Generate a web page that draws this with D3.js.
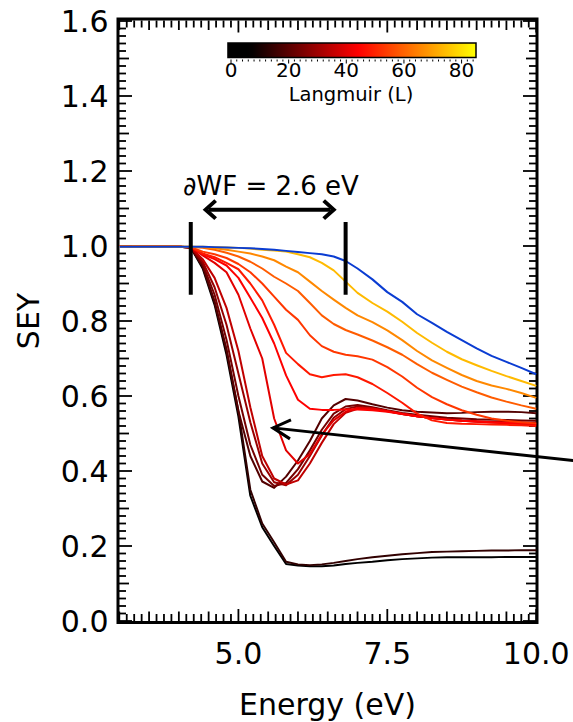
<!DOCTYPE html>
<html><head><meta charset="utf-8">
<script src="https://cdn.jsdelivr.net/npm/d3@7/dist/d3.min.js"></script>
<style>html,body{margin:0;padding:0;background:#fff;} svg{display:block;font-family:"DejaVu Sans",sans-serif;}</style>
</head><body><svg id="chart" width="573" height="722"></svg>
<script>
// ---------------- data ----------------
const energy = [3.0, 3.5, 4.0, 4.2, 4.4, 4.6, 4.8, 5.0, 5.2, 5.4, 5.6, 5.8, 6.0, 6.2, 6.4, 6.6, 6.8, 7.0, 7.25, 7.5, 7.75, 8.0, 8.25, 8.5, 8.75, 9.0, 9.25, 9.5, 9.75, 10.0];

// Langmuir exposure of each curve (colour-coded)
const exposures = [0, 14, 19, 24, 29, 35, 40, 44, 48, 53, 59, 66, 74];

const sey_a = [0.998,0.998,0.998,0.996,0.940,0.843,0.710,0.545,0.334,0.250,0.200,0.152,0.148,0.146,0.146,0.148,0.152,0.155,0.158,0.162,0.165,0.167,0.169,0.170,0.170,0.170,0.170,0.171,0.171,0.171];
const sey_b = [0.998,0.998,0.998,0.996,0.945,0.850,0.720,0.560,0.350,0.260,0.210,0.158,0.151,0.149,0.151,0.155,0.160,0.165,0.170,0.174,0.178,0.181,0.184,0.185,0.186,0.187,0.188,0.188,0.189,0.189];
const sey_c = [0.998,0.998,0.998,0.996,0.946,0.852,0.725,0.560,0.440,0.372,0.355,0.385,0.428,0.480,0.540,0.575,0.592,0.588,0.578,0.569,0.562,0.558,0.556,0.554,0.555,0.557,0.558,0.558,0.557,0.554];
const sey_d = [0.998,0.998,0.998,0.996,0.952,0.870,0.750,0.600,0.470,0.390,0.360,0.368,0.405,0.455,0.510,0.553,0.572,0.576,0.570,0.562,0.555,0.550,0.546,0.542,0.540,0.538,0.537,0.536,0.535,0.534];
const sey_e = [0.998,0.998,0.998,0.996,0.958,0.890,0.790,0.660,0.530,0.420,0.370,0.362,0.390,0.440,0.495,0.542,0.565,0.572,0.567,0.560,0.552,0.546,0.541,0.538,0.535,0.533,0.532,0.531,0.530,0.529];
const sey_f = [0.998,0.998,0.998,0.996,0.965,0.915,0.835,0.720,0.570,0.440,0.380,0.364,0.375,0.420,0.475,0.525,0.555,0.566,0.565,0.559,0.552,0.546,0.541,0.537,0.534,0.531,0.529,0.527,0.525,0.522];
const sey_g = [0.998,0.998,0.998,0.997,0.975,0.955,0.930,0.870,0.780,0.700,0.540,0.455,0.420,0.445,0.497,0.535,0.558,0.568,0.567,0.560,0.553,0.546,0.541,0.537,0.534,0.532,0.530,0.529,0.528,0.526];
const sey_h = [0.998,0.998,0.998,0.997,0.978,0.965,0.948,0.915,0.862,0.808,0.740,0.655,0.590,0.566,0.563,0.563,0.564,0.564,0.562,0.558,0.552,0.546,0.541,0.537,0.534,0.532,0.530,0.528,0.527,0.525];
const sey_i = [0.998,0.998,0.998,0.997,0.980,0.970,0.955,0.938,0.900,0.855,0.790,0.715,0.685,0.658,0.650,0.656,0.658,0.650,0.632,0.608,0.582,0.553,0.535,0.528,0.526,0.525,0.524,0.523,0.522,0.520];
const sey_j = [0.998,0.998,0.998,0.997,0.985,0.978,0.968,0.952,0.930,0.900,0.865,0.830,0.803,0.762,0.733,0.718,0.710,0.706,0.697,0.677,0.652,0.622,0.597,0.578,0.562,0.550,0.540,0.534,0.530,0.527];
const sey_k = [0.998,0.998,0.998,0.997,0.995,0.990,0.982,0.972,0.958,0.940,0.918,0.900,0.880,0.848,0.815,0.792,0.776,0.764,0.748,0.730,0.710,0.685,0.662,0.643,0.625,0.610,0.596,0.585,0.575,0.566];
const sey_l = [0.998,0.998,0.998,0.998,0.997,0.994,0.990,0.985,0.980,0.972,0.962,0.945,0.930,0.905,0.880,0.857,0.835,0.815,0.797,0.775,0.749,0.720,0.695,0.675,0.656,0.640,0.628,0.619,0.608,0.595];
const sey_m = [0.998,0.998,0.998,0.998,0.998,0.997,0.996,0.995,0.993,0.990,0.988,0.985,0.978,0.970,0.955,0.935,0.905,0.875,0.848,0.825,0.798,0.768,0.742,0.718,0.698,0.682,0.667,0.653,0.640,0.627];
const sey_clean = [0.998,0.998,0.998,0.998,0.998,0.997,0.996,0.995,0.994,0.992,0.990,0.987,0.984,0.981,0.978,0.972,0.960,0.940,0.911,0.877,0.851,0.818,0.795,0.771,0.749,0.727,0.707,0.691,0.675,0.658];

const exposureSeries = [sey_a, sey_b, sey_c, sey_d, sey_e, sey_f, sey_g, sey_h, sey_i, sey_j, sey_k, sey_l, sey_m];

const yTickValues = [0.0, 0.2, 0.4, 0.6, 0.8, 1.0, 1.2, 1.4, 1.6];
const xTickValues = [5.0, 7.5, 10.0];
const cbTickValues = [0, 20, 40, 60, 80];

// annotation values (data units)
const wfMarkersE = [4.2, 6.8];
const wfMarkerV = [1.064, 0.87];
const wfArrowE = [4.45, 6.6];
const wfArrowV = 1.097;
const wfLabel = "\u2202WF = 2.6 eV";
const pointerTip = [5.58, 0.515];
const pointerTail = [10.62, 0.428];

// ---------------- drawing ----------------
const svg = d3.select("#chart");
const x = d3.scaleLinear().domain([3, 10]).range([119.3, 536.2]);
const y = d3.scaleLinear().domain([0, 1.6]).range([621, 21]);
// "hot"-style colour table: black -> red -> yellow
const cmap = d3.scaleLinear()
  .domain([0, 6.8, 44.2, 85])
  .range(["#000000", "#000000", "#ff0000", "#ffff00"]).clamp(true);

// frame
svg.append("rect").attr("x", 118).attr("y", 19).attr("width", 419).attr("height", 603.5)
  .attr("fill", "none").attr("stroke", "#000").attr("stroke-width", 3);

const tickG = svg.append("g").attr("stroke", "#000").attr("stroke-width", 1.8);
// y ticks every 0.02
d3.range(0, 81).forEach(i => {
  const len = i % 10 === 0 ? 13 : (i % 5 === 0 ? 10 : 7);
  const yy = y(i * 0.02);
  tickG.append("line").attr("x1", 119).attr("x2", 119 + len).attr("y1", yy).attr("y2", yy);
  tickG.append("line").attr("x1", 536).attr("x2", 536 - len).attr("y1", yy).attr("y2", yy);
});
// x ticks every 0.125
d3.range(24, 81).forEach(k => {
  const len = k % 20 === 0 ? 12 : (k % 4 === 0 ? 9.5 : 7);
  const xx = x(k * 0.125);
  tickG.append("line").attr("x1", xx).attr("x2", xx).attr("y1", 621).attr("y2", 621 - len);
  tickG.append("line").attr("x1", xx).attr("x2", xx).attr("y1", 20.5).attr("y2", 20.5 + len);
});

// tick labels
svg.append("g").selectAll("text").data(yTickValues).join("text")
  .attr("x", 108.5).attr("y", d => y(d) + 11).attr("text-anchor", "end")
  .attr("font-size", 30).attr("fill", "#000").text(d => d3.format(".1f")(d));
svg.append("g").selectAll("text").data(xTickValues).join("text")
  .attr("x", d => x(d)).attr("y", 664).attr("text-anchor", "middle")
  .attr("font-size", 30).attr("fill", "#000").text(d => d3.format(".1f")(d));

// axis titles
svg.append("text").attr("x", 327.5).attr("y", 715).attr("text-anchor", "middle")
  .attr("font-size", 30).text("Energy (eV)");
svg.append("text").attr("transform", "translate(38.5,321) rotate(-90)").attr("text-anchor", "middle")
  .attr("font-size", 30).text("SEY");

// curves
const line = d3.line().x((d, i) => x(energy[i])).y(d => y(d));
const curveG = svg.append("g").attr("fill", "none").attr("stroke-width", 2).attr("stroke-linejoin", "round");
exposureSeries.forEach((s, idx) => {
  curveG.append("path").attr("d", line(s)).attr("stroke", cmap(exposures[idx]));
});
curveG.append("path").attr("d", line(sey_clean)).attr("stroke", "#0a3cd2");

// work-function annotation
const annG = svg.append("g").attr("stroke", "#000").attr("fill", "none");
wfMarkersE.forEach(e => {
  annG.append("line").attr("x1", x(e)).attr("x2", x(e)).attr("y1", y(wfMarkerV[0])).attr("y2", y(wfMarkerV[1]))
    .attr("stroke-width", 4);
});
const ax0 = x(wfArrowE[0]), ax1 = x(wfArrowE[1]), ay = y(wfArrowV);
annG.append("line").attr("x1", ax0 + 3).attr("x2", ax1 - 3).attr("y1", ay).attr("y2", ay).attr("stroke-width", 4);
annG.append("path").attr("d", `M${ax0 + 10},${ay - 9} L${ax0},${ay} L${ax0 + 10},${ay + 9}`)
  .attr("stroke-width", 4).attr("stroke-linejoin", "miter");
annG.append("path").attr("d", `M${ax1 - 10},${ay - 9} L${ax1},${ay} L${ax1 - 10},${ay + 9}`)
  .attr("stroke-width", 4).attr("stroke-linejoin", "miter");
svg.append("text").attr("x", 271).attr("y", 195).attr("text-anchor", "middle")
  .attr("font-size", 26).text(wfLabel);

// pointer arrow
const px0 = x(pointerTip[0]), py0 = y(pointerTip[1]);
const px1 = x(pointerTail[0]), py1 = y(pointerTail[1]);
annG.append("line").attr("x1", px0).attr("y1", py0).attr("x2", px1).attr("y2", py1).attr("stroke-width", 3);
annG.append("path").attr("d", `M${px0 + 18},${py0 - 8} L${px0},${py0} L${px0 + 17},${py0 + 11}`)
  .attr("stroke-width", 3).attr("stroke-linejoin", "miter");

// colour bar
const cb = d3.scaleLinear().domain([0, 85]).range([231, 476]);
const defs = svg.append("defs");
const grad = defs.append("linearGradient").attr("id", "cbgrad").attr("x1", "0%").attr("x2", "100%");
const cbMin = -1.05, cbMax = 85;
d3.range(0, 41).forEach(i => {
  const v = cbMin + (cbMax - cbMin) * i / 40;
  grad.append("stop").attr("offset", (i * 2.5) + "%").attr("stop-color", cmap(Math.max(0, v)));
});
svg.append("rect").attr("x", cb(cbMin)).attr("y", 43).attr("width", cb(cbMax) - cb(cbMin)).attr("height", 14.5)
  .attr("fill", "url(#cbgrad)").attr("stroke", "#000").attr("stroke-width", 1.5);
const cbT = svg.append("g").attr("stroke", "#000").attr("stroke-width", 1);
d3.range(0, 85, 2).forEach(v => {
  const major = cbTickValues.includes(v);
  cbT.append("line").attr("x1", cb(v)).attr("x2", cb(v)).attr("y1", 59.5).attr("y2", major ? 63.5 : 61.5);
});
svg.append("g").selectAll("text").data(cbTickValues).join("text")
  .attr("x", d => cb(d)).attr("y", 77).attr("text-anchor", "middle").attr("font-size", 20).text(d => d);
svg.append("text").attr("x", 351).attr("y", 100.5).attr("text-anchor", "middle").attr("font-size", 19.5).text("Langmuir (L)");
</script></body></html>
